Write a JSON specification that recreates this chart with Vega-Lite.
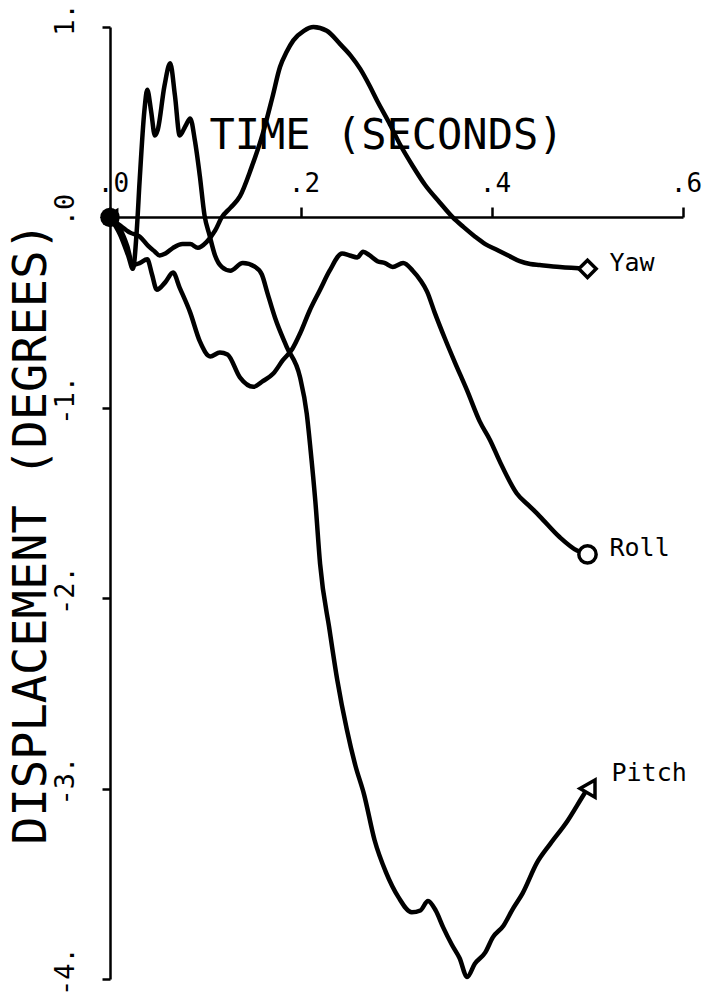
{
  "$schema": "https://vega.github.io/schema/vega-lite/v6.json",
  "width": 573,
  "height": 952,
  "autosize": {"type": "none"},
  "padding": {"left": 110, "top": 27, "right": 22, "bottom": 18},
  "background": "white",
  "config": {"view": {"stroke": null}, "font": "DejaVu Sans Mono"},
  "data": {
    "values": [
      {"series": "Yaw", "t": 0, "deg": 0},
      {"series": "Yaw", "t": 0.010, "deg": -0.04},
      {"series": "Yaw", "t": 0.021, "deg": -0.08},
      {"series": "Yaw", "t": 0.031, "deg": -0.10},
      {"series": "Yaw", "t": 0.040, "deg": -0.15},
      {"series": "Yaw", "t": 0.047, "deg": -0.18},
      {"series": "Yaw", "t": 0.052, "deg": -0.20},
      {"series": "Yaw", "t": 0.058, "deg": -0.19},
      {"series": "Yaw", "t": 0.066, "deg": -0.16},
      {"series": "Yaw", "t": 0.076, "deg": -0.14},
      {"series": "Yaw", "t": 0.084, "deg": -0.14},
      {"series": "Yaw", "t": 0.092, "deg": -0.16},
      {"series": "Yaw", "t": 0.101, "deg": -0.13},
      {"series": "Yaw", "t": 0.110, "deg": -0.07},
      {"series": "Yaw", "t": 0.117, "deg": 0.0},
      {"series": "Yaw", "t": 0.126, "deg": 0.05},
      {"series": "Yaw", "t": 0.136, "deg": 0.11},
      {"series": "Yaw", "t": 0.148, "deg": 0.26},
      {"series": "Yaw", "t": 0.160, "deg": 0.44},
      {"series": "Yaw", "t": 0.170, "deg": 0.63},
      {"series": "Yaw", "t": 0.178, "deg": 0.79},
      {"series": "Yaw", "t": 0.185, "deg": 0.87},
      {"series": "Yaw", "t": 0.192, "deg": 0.93},
      {"series": "Yaw", "t": 0.203, "deg": 0.98},
      {"series": "Yaw", "t": 0.213, "deg": 1.0},
      {"series": "Yaw", "t": 0.227, "deg": 0.98},
      {"series": "Yaw", "t": 0.241, "deg": 0.91},
      {"series": "Yaw", "t": 0.252, "deg": 0.85},
      {"series": "Yaw", "t": 0.262, "deg": 0.78},
      {"series": "Yaw", "t": 0.272, "deg": 0.69},
      {"series": "Yaw", "t": 0.280, "deg": 0.61},
      {"series": "Yaw", "t": 0.292, "deg": 0.50},
      {"series": "Yaw", "t": 0.304, "deg": 0.38},
      {"series": "Yaw", "t": 0.317, "deg": 0.27},
      {"series": "Yaw", "t": 0.330, "deg": 0.17},
      {"series": "Yaw", "t": 0.345, "deg": 0.08},
      {"series": "Yaw", "t": 0.359, "deg": 0.0},
      {"series": "Yaw", "t": 0.370, "deg": -0.05},
      {"series": "Yaw", "t": 0.382, "deg": -0.10},
      {"series": "Yaw", "t": 0.393, "deg": -0.14},
      {"series": "Yaw", "t": 0.405, "deg": -0.17},
      {"series": "Yaw", "t": 0.417, "deg": -0.20},
      {"series": "Yaw", "t": 0.429, "deg": -0.23},
      {"series": "Yaw", "t": 0.440, "deg": -0.245},
      {"series": "Yaw", "t": 0.450, "deg": -0.25},
      {"series": "Yaw", "t": 0.471, "deg": -0.26},
      {"series": "Yaw", "t": 0.5, "deg": -0.27},

      {"series": "Roll", "t": 0, "deg": 0},
      {"series": "Roll", "t": 0.0105, "deg": -0.06},
      {"series": "Roll", "t": 0.018, "deg": -0.15},
      {"series": "Roll", "t": 0.024, "deg": -0.25},
      {"series": "Roll", "t": 0.031, "deg": -0.24},
      {"series": "Roll", "t": 0.039, "deg": -0.22},
      {"series": "Roll", "t": 0.044, "deg": -0.30},
      {"series": "Roll", "t": 0.049, "deg": -0.38},
      {"series": "Roll", "t": 0.058, "deg": -0.34},
      {"series": "Roll", "t": 0.066, "deg": -0.29},
      {"series": "Roll", "t": 0.073, "deg": -0.37},
      {"series": "Roll", "t": 0.084, "deg": -0.50},
      {"series": "Roll", "t": 0.094, "deg": -0.65},
      {"series": "Roll", "t": 0.105, "deg": -0.73},
      {"series": "Roll", "t": 0.115, "deg": -0.71},
      {"series": "Roll", "t": 0.123, "deg": -0.72},
      {"series": "Roll", "t": 0.136, "deg": -0.84},
      {"series": "Roll", "t": 0.150, "deg": -0.89},
      {"series": "Roll", "t": 0.160, "deg": -0.86},
      {"series": "Roll", "t": 0.171, "deg": -0.82},
      {"series": "Roll", "t": 0.181, "deg": -0.75},
      {"series": "Roll", "t": 0.191, "deg": -0.69},
      {"series": "Roll", "t": 0.199, "deg": -0.61},
      {"series": "Roll", "t": 0.209, "deg": -0.49},
      {"series": "Roll", "t": 0.220, "deg": -0.38},
      {"series": "Roll", "t": 0.230, "deg": -0.28},
      {"series": "Roll", "t": 0.243, "deg": -0.19},
      {"series": "Roll", "t": 0.251, "deg": -0.20},
      {"series": "Roll", "t": 0.259, "deg": -0.21},
      {"series": "Roll", "t": 0.265, "deg": -0.18},
      {"series": "Roll", "t": 0.272, "deg": -0.20},
      {"series": "Roll", "t": 0.280, "deg": -0.23},
      {"series": "Roll", "t": 0.288, "deg": -0.24},
      {"series": "Roll", "t": 0.296, "deg": -0.26},
      {"series": "Roll", "t": 0.307, "deg": -0.24},
      {"series": "Roll", "t": 0.317, "deg": -0.28},
      {"series": "Roll", "t": 0.325, "deg": -0.33},
      {"series": "Roll", "t": 0.332, "deg": -0.39},
      {"series": "Roll", "t": 0.340, "deg": -0.50},
      {"series": "Roll", "t": 0.351, "deg": -0.64},
      {"series": "Roll", "t": 0.361, "deg": -0.76},
      {"series": "Roll", "t": 0.374, "deg": -0.91},
      {"series": "Roll", "t": 0.387, "deg": -1.07},
      {"series": "Roll", "t": 0.398, "deg": -1.17},
      {"series": "Roll", "t": 0.408, "deg": -1.28},
      {"series": "Roll", "t": 0.426, "deg": -1.45},
      {"series": "Roll", "t": 0.440, "deg": -1.52},
      {"series": "Roll", "t": 0.450, "deg": -1.57},
      {"series": "Roll", "t": 0.471, "deg": -1.68},
      {"series": "Roll", "t": 0.489, "deg": -1.75},
      {"series": "Roll", "t": 0.5, "deg": -1.77},

      {"series": "Pitch", "t": 0, "deg": 0},
      {"series": "Pitch", "t": 0.0105, "deg": -0.09},
      {"series": "Pitch", "t": 0.019, "deg": -0.20},
      {"series": "Pitch", "t": 0.024, "deg": -0.27},
      {"series": "Pitch", "t": 0.028, "deg": -0.07},
      {"series": "Pitch", "t": 0.031, "deg": 0.19},
      {"series": "Pitch", "t": 0.036, "deg": 0.56},
      {"series": "Pitch", "t": 0.039, "deg": 0.67},
      {"series": "Pitch", "t": 0.043, "deg": 0.56},
      {"series": "Pitch", "t": 0.047, "deg": 0.43},
      {"series": "Pitch", "t": 0.050, "deg": 0.46},
      {"series": "Pitch", "t": 0.057, "deg": 0.69},
      {"series": "Pitch", "t": 0.063, "deg": 0.81},
      {"series": "Pitch", "t": 0.068, "deg": 0.64},
      {"series": "Pitch", "t": 0.073, "deg": 0.43},
      {"series": "Pitch", "t": 0.079, "deg": 0.48},
      {"series": "Pitch", "t": 0.084, "deg": 0.52},
      {"series": "Pitch", "t": 0.089, "deg": 0.40},
      {"series": "Pitch", "t": 0.094, "deg": 0.22},
      {"series": "Pitch", "t": 0.099, "deg": 0.01},
      {"series": "Pitch", "t": 0.104, "deg": -0.09},
      {"series": "Pitch", "t": 0.110, "deg": -0.20},
      {"series": "Pitch", "t": 0.117, "deg": -0.26},
      {"series": "Pitch", "t": 0.126, "deg": -0.28},
      {"series": "Pitch", "t": 0.139, "deg": -0.24},
      {"series": "Pitch", "t": 0.152, "deg": -0.26},
      {"series": "Pitch", "t": 0.159, "deg": -0.30},
      {"series": "Pitch", "t": 0.165, "deg": -0.40},
      {"series": "Pitch", "t": 0.173, "deg": -0.53},
      {"series": "Pitch", "t": 0.185, "deg": -0.68},
      {"series": "Pitch", "t": 0.199, "deg": -0.84},
      {"series": "Pitch", "t": 0.206, "deg": -1.03},
      {"series": "Pitch", "t": 0.210, "deg": -1.22},
      {"series": "Pitch", "t": 0.215, "deg": -1.49},
      {"series": "Pitch", "t": 0.220, "deg": -1.82},
      {"series": "Pitch", "t": 0.230, "deg": -2.17},
      {"series": "Pitch", "t": 0.238, "deg": -2.43},
      {"series": "Pitch", "t": 0.248, "deg": -2.69},
      {"series": "Pitch", "t": 0.257, "deg": -2.88},
      {"series": "Pitch", "t": 0.266, "deg": -3.03},
      {"series": "Pitch", "t": 0.277, "deg": -3.27},
      {"series": "Pitch", "t": 0.289, "deg": -3.44},
      {"series": "Pitch", "t": 0.302, "deg": -3.57},
      {"series": "Pitch", "t": 0.316, "deg": -3.65},
      {"series": "Pitch", "t": 0.325, "deg": -3.64},
      {"series": "Pitch", "t": 0.333, "deg": -3.59},
      {"series": "Pitch", "t": 0.341, "deg": -3.64},
      {"series": "Pitch", "t": 0.349, "deg": -3.73},
      {"series": "Pitch", "t": 0.358, "deg": -3.82},
      {"series": "Pitch", "t": 0.366, "deg": -3.89},
      {"series": "Pitch", "t": 0.374, "deg": -3.99},
      {"series": "Pitch", "t": 0.382, "deg": -3.92},
      {"series": "Pitch", "t": 0.393, "deg": -3.86},
      {"series": "Pitch", "t": 0.401, "deg": -3.78},
      {"series": "Pitch", "t": 0.412, "deg": -3.72},
      {"series": "Pitch", "t": 0.422, "deg": -3.63},
      {"series": "Pitch", "t": 0.432, "deg": -3.55},
      {"series": "Pitch", "t": 0.447, "deg": -3.39},
      {"series": "Pitch", "t": 0.461, "deg": -3.29},
      {"series": "Pitch", "t": 0.479, "deg": -3.17},
      {"series": "Pitch", "t": 0.495, "deg": -3.04},
      {"series": "Pitch", "t": 0.5, "deg": -3.00}
    ]
  },
  "encoding": {
    "x": {
      "field": "t",
      "type": "quantitative",
      "scale": {"domain": [0, 0.6], "nice": false, "zero": false},
      "axis": {
        "orient": "top",
        "offset": -190,
        "values": [0, 0.2, 0.4, 0.6],
        "labelExpr": "datum.value == 0 ? '.0' : replace(format(datum.value, '.1f'), '0.', '.')",
        "labelFlush": false,
        "labelAngle": 0,
        "labelFont": "DejaVu Sans Mono",
        "labelFontSize": 26,
        "labelColor": "black",
        "labelBaseline": "alphabetic",
        "labelPadding": 16,
        "labelOffset": 3,
        "tickSize": 10,
        "tickWidth": 2.5,
        "tickColor": "black",
        "domainColor": "black",
        "domainWidth": 2.5,
        "grid": false,
        "title": "TIME (SECONDS)",
        "titleFont": "DejaVu Sans Mono",
        "titleFontSize": 42,
        "titleFontWeight": "normal",
        "titleColor": "black",
        "titleAngle": 0,
        "titleAlign": "center",
        "titleBaseline": "alphabetic",
        "titleX": 276,
        "titleY": -69
      }
    },
    "y": {
      "field": "deg",
      "type": "quantitative",
      "scale": {"domain": [-4, 1], "nice": false, "zero": false},
      "axis": {
        "orient": "left",
        "values": [1, 0, -1, -2, -3, -4],
        "labelExpr": "datum.value == 0 ? '.0' : (datum.value < 0 ? '-' : '') + abs(datum.value) + '.'",
        "labelAngle": -90,
        "labelAlign": "center",
        "labelBaseline": "alphabetic",
        "labelFont": "DejaVu Sans Mono",
        "labelFontSize": 27,
        "labelColor": "black",
        "labelPadding": 29,
        "labelOffset": -8,
        "tickSize": 8,
        "tickWidth": 2.5,
        "tickColor": "black",
        "domainColor": "black",
        "domainWidth": 2.5,
        "grid": false,
        "title": "DISPLACEMENT (DEGREES)",
        "titleFont": "DejaVu Sans Mono",
        "titleFontSize": 47,
        "titleFontWeight": "normal",
        "titleColor": "black",
        "titleAngle": -90,
        "titleAlign": "center",
        "titleBaseline": "alphabetic",
        "titleX": -65,
        "titleY": 506
      }
    }
  },
  "layer": [
    {
      "mark": {"type": "line", "color": "black", "strokeWidth": 4.5, "interpolate": "monotone", "strokeJoin": "round", "strokeCap": "round"},
      "encoding": {"detail": {"field": "series"}}
    },
    {
      "transform": [{"filter": "datum.t == 0"}],
      "mark": {"type": "point", "filled": true, "color": "black", "size": 380, "opacity": 1},
      "encoding": {
        "shape": {
          "field": "series",
          "scale": {"domain": ["Yaw", "Roll", "Pitch"], "range": ["diamond", "circle", "triangle-left"]},
          "legend": null
        }
      }
    },
    {
      "transform": [{"filter": "datum.t == 0.5"}],
      "mark": {"type": "point", "filled": true, "fill": "white", "stroke": "black", "strokeWidth": 3.5, "size": 300, "opacity": 1},
      "encoding": {
        "shape": {
          "field": "series",
          "scale": {"domain": ["Yaw", "Roll", "Pitch"], "range": ["diamond", "circle", "triangle-left"]},
          "legend": null
        }
      }
    },
    {
      "transform": [{"filter": "datum.t == 0.5 && datum.series != 'Pitch'"}],
      "mark": {"type": "text", "align": "left", "baseline": "middle", "dx": 22, "dy": -6, "font": "DejaVu Sans Mono", "fontSize": 25, "color": "black"},
      "encoding": {"text": {"field": "series"}}
    },
    {
      "transform": [{"filter": "datum.series == 'Pitch' && datum.t == 0.5"}],
      "mark": {"type": "text", "align": "left", "baseline": "middle", "dx": 24, "dy": -16, "font": "DejaVu Sans Mono", "fontSize": 25, "color": "black"},
      "encoding": {"text": {"field": "series"}}
    }
  ]
}
